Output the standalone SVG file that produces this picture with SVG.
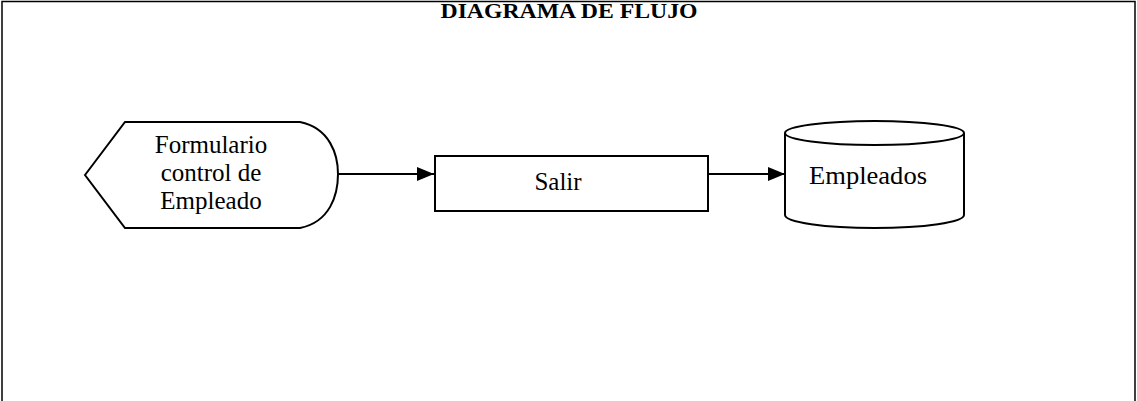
<svg xmlns="http://www.w3.org/2000/svg" width="1137" height="401" viewBox="0 0 1137 401">
<defs>
<marker id="arr" viewBox="0 0 10 10" refX="10" refY="5" markerWidth="17" markerHeight="14" markerUnits="userSpaceOnUse" orient="auto" preserveAspectRatio="none">
<path d="M0,0 L10,5 L0,10 Z" fill="#000"/>
</marker>
<style>
.shape{fill:#fff;stroke:#000;stroke-width:2}
.lbl{font-family:"Liberation Serif","Times New Roman",serif;font-size:25px;fill:#000;text-anchor:middle}
.conn{stroke:#000;stroke-width:2;fill:none}
</style>
</defs>
<rect width="1137" height="401" fill="#fff"/>
<path d="M2,401 V1.5 H1135 V401" fill="none" stroke="#000" stroke-width="1.5"/>
<text x="569" y="18" font-family="'Liberation Serif','Times New Roman',serif" font-size="20" font-weight="bold" text-anchor="middle" textLength="257" lengthAdjust="spacingAndGlyphs">DIAGRAMA DE FLUJO</text>
<g id="node-formulario">
<path class="shape" d="M85,175 L125,122 L300,122 C330,128 338,155 338,174 C338,195 330,222 300,228 L125,228 Z"/>
<text class="lbl" x="211" y="153" font-size="26">Formulario</text>
<text class="lbl" x="211" y="181" font-size="26">control de</text>
<text class="lbl" x="211" y="209" font-size="26">Empleado</text>
</g>
<g id="node-salir">
<rect class="shape" x="435" y="156" width="273" height="55"/>
<text class="lbl" x="558" y="190">Salir</text>
</g>
<g id="node-empleados">
<path class="shape" d="M785,133 A89.5,12 0 0 1 964,133 V215 A89.5,13 0 0 1 785,215 Z"/>
<path class="shape" fill="none" d="M785,133 A89.5,12 0 0 0 964,133"/>
<text class="lbl" x="868" y="184" textLength="118" lengthAdjust="spacingAndGlyphs">Empleados</text>
</g>
<g id="connectors">
<line class="conn" x1="338" y1="174" x2="434" y2="174" marker-end="url(#arr)"/>
<line class="conn" x1="708" y1="174" x2="785" y2="174" marker-end="url(#arr)"/>
</g>
</svg>
